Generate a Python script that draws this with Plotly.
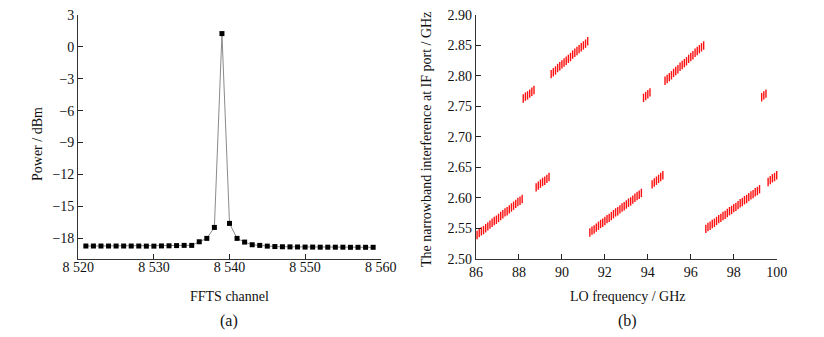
import plotly.graph_objects as go

# ---------------- (a) FFTS spectrum ----------------
channel = list(range(8521, 8560))
power = [-18.75, -18.75, -18.75, -18.75, -18.75, -18.75, -18.75, -18.75, -18.76, -18.76,
         -18.74, -18.73, -18.71, -18.69, -18.69, -18.35, -18.03, -17.0, 1.25, -16.62,
         -18.03, -18.38, -18.63, -18.69, -18.76, -18.8, -18.82, -18.83, -18.84, -18.85,
         -18.85, -18.86, -18.86, -18.86, -18.86, -18.87, -18.87, -18.87, -18.87]
a_xticks = [8520, 8530, 8540, 8550, 8560]
a_xlabels = ["8 520", "8 530", "8 540", "8 550", "8 560"]
a_yticks = [3, 0, -3, -6, -9, -12, -15, -18]

# ---------------- (b) narrowband interference ----------------
lo_freq = [
    86.05, 86.15, 86.25, 86.35, 86.45, 86.55, 86.65, 86.75, 86.85, 86.95, 87.05,
    87.15, 87.25, 87.35, 87.45, 87.55, 87.65, 87.75, 87.85, 87.95, 88.05, 88.15,
    88.2, 88.3, 88.4, 88.5, 88.6, 88.7,
    88.8, 88.9, 89.0, 89.1, 89.2, 89.3, 89.4,
    89.5, 89.6, 89.7, 89.8, 89.9, 90.0, 90.1, 90.2, 90.3, 90.4, 90.5, 90.6, 90.7,
    90.8, 90.9, 91.0, 91.1, 91.2,
    91.3, 91.4, 91.5, 91.6, 91.7, 91.8, 91.9, 92.0, 92.1, 92.2, 92.3, 92.4, 92.5,
    92.6, 92.7, 92.8, 92.9, 93.0, 93.1, 93.2, 93.3, 93.4, 93.5, 93.6, 93.7,
    93.8, 93.9, 94.0, 94.1,
    94.2, 94.3, 94.4, 94.5, 94.6, 94.7,
    94.8, 94.9, 95.0, 95.1, 95.2, 95.3, 95.4, 95.5, 95.6, 95.7, 95.8, 95.9, 96.0,
    96.1, 96.2, 96.3, 96.4, 96.5, 96.6,
    96.7, 96.8, 96.9, 97.0, 97.1, 97.2, 97.3, 97.4, 97.5, 97.6, 97.7, 97.8, 97.9,
    98.0, 98.1, 98.2, 98.3, 98.4, 98.5, 98.6, 98.7, 98.8, 98.9, 99.0, 99.1, 99.2,
    99.3, 99.4, 99.5,
    99.6, 99.7, 99.8, 99.9, 100.0,
]
if_freq = [
    2.539, 2.542, 2.545, 2.547, 2.550, 2.553, 2.556, 2.559, 2.562, 2.564, 2.567,
    2.570, 2.573, 2.576, 2.578, 2.581, 2.584, 2.587, 2.590, 2.593, 2.595, 2.598,
    2.763, 2.766, 2.768, 2.771, 2.774, 2.777,
    2.617, 2.620, 2.623, 2.626, 2.628, 2.631, 2.634,
    2.803, 2.806, 2.809, 2.813, 2.816, 2.819, 2.822, 2.825, 2.828, 2.831, 2.835, 2.838, 2.841,
    2.844, 2.847, 2.850, 2.853, 2.857,
    2.543, 2.546, 2.548, 2.551, 2.554, 2.557, 2.559, 2.562, 2.565, 2.567, 2.570, 2.573, 2.576,
    2.578, 2.581, 2.584, 2.586, 2.589, 2.592, 2.594, 2.597, 2.600, 2.603, 2.605, 2.608,
    2.764, 2.767, 2.770, 2.773,
    2.622, 2.625, 2.628, 2.631, 2.634, 2.637,
    2.792, 2.795, 2.798, 2.801, 2.805, 2.808, 2.811, 2.815, 2.818, 2.821, 2.824, 2.828, 2.831,
    2.834, 2.838, 2.841, 2.844, 2.847, 2.850,
    2.549, 2.552, 2.554, 2.557, 2.559, 2.562, 2.565, 2.567, 2.570, 2.572, 2.575, 2.578, 2.580,
    2.583, 2.585, 2.588, 2.591, 2.593, 2.596, 2.598, 2.601, 2.604, 2.606, 2.609, 2.611, 2.614,
    2.765, 2.768, 2.771,
    2.626, 2.629, 2.632, 2.634, 2.637,
]
b_xticks = [86, 88, 90, 92, 94, 96, 98, 100]
b_yticks = [2.50, 2.55, 2.60, 2.65, 2.70, 2.75, 2.80, 2.85, 2.90]

FONT = "Liberation Serif"
FS = 14
W, H = 824, 337
OFF = 8  # page body margin

fig = go.Figure()
fig.add_trace(go.Scatter(
    x=channel, y=power, mode="lines+markers", xaxis="x", yaxis="y",
    line=dict(color="#8a8a8a", width=1),
    marker=dict(symbol="square", size=5, color="black"),
    cliponaxis=False, showlegend=False, hoverinfo="skip"))
fig.add_trace(go.Scatter(
    x=lo_freq, y=if_freq, mode="markers", xaxis="x2", yaxis="y2",
    marker=dict(symbol="line-ns", size=6, color="#ff0000",
                line=dict(color="#ff1010", width=1.4)),
    cliponaxis=False, showlegend=False, hoverinfo="skip"))

def px(x):
    return (x - OFF) / W

def py(y):
    return 1 - (y - OFF) / H

axis_common = dict(showgrid=False, zeroline=False, showline=True,
                   linecolor="#333333", linewidth=1.3,
                   ticks="inside", ticklen=5, tickwidth=1.2, tickcolor="#222222",
                   tickfont=dict(family=FONT, size=FS, color="#111111"),
                   ticklabeloverflow="allow",
                   automargin=False, mirror=False)

fig.update_layout(
    width=W, height=H, margin=dict(l=0, r=0, t=0, b=0),
    paper_bgcolor="white", plot_bgcolor="white",
    font=dict(family=FONT, size=FS, color="#111111"),
    xaxis=dict(domain=[px(78.3), px(380.7)], range=[8520, 8560], anchor="y",
               tickvals=a_xticks, ticktext=a_xlabels, ticklabelstandoff=-5, **axis_common),
    yaxis=dict(domain=[py(259.3), py(15)], range=[-20, 3], anchor="x",
               tickvals=a_yticks, **axis_common),
    xaxis2=dict(domain=[px(476), px(776.7)], range=[86, 100], anchor="y2",
                tickvals=b_xticks, ticklabelstandoff=0, **axis_common),
    yaxis2=dict(domain=[py(258.7), py(15)], range=[2.5, 2.9], anchor="x2",
                tickvals=b_yticks, tickformat=".2f", **axis_common),
)

ann = [
    dict(text="Power / dBm", x=px(38), y=py(144), textangle=-90),
    dict(text="FFTS channel", x=px(229), y=py(296)),
    dict(text="(a)", x=px(229), y=py(321), size=16),
    dict(text="The narrowband interference at IF port / GHz", x=px(426), y=py(140), textangle=-90),
    dict(text="LO frequency / GHz", x=px(627), y=py(296)),
    dict(text="(b)", x=px(627), y=py(321), size=16),
]
for a in ann:
    fig.add_annotation(text=a["text"], x=a["x"], y=a["y"], xref="paper", yref="paper",
                       showarrow=False, textangle=a.get("textangle", 0),
                       xanchor="center", yanchor="middle",
                       font=dict(family=FONT, size=a.get("size", FS), color="#111111"))

fig.write_html("out.html")
